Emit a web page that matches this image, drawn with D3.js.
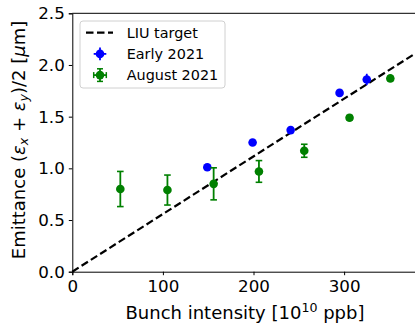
<!DOCTYPE html>
<html>
<head>
<meta charset="utf-8">
<script src="https://cdn.jsdelivr.net/npm/d3@7"></script>
<style>
  html, body { margin: 0; padding: 0; background: #fff; }
  svg { display: block; font-family: "DejaVu Sans", sans-serif; }
</style>
</head>
<body>
<svg id="chart" width="415" height="330"></svg>
<script>
/* emittance vs bunch intensity — LIU target, early and August 2021 */

const xTicks = [0, 100, 200, 300];
const yTicks = [0, 0.5, 1.0, 1.5, 2.0, 2.5];

const liuX = [0, 380];
const liuY = [0, 2.12];

const earlyX = [149, 199, 241, 295, 325];
const earlyY = [1.01, 1.25, 1.37, 1.73, 1.86];
const earlyYerr = [0.02, 0.02, 0.02, 0.02, 0.055];
const earlyXerr = [1, 1, 1, 1, 1];

const augX = [53, 105, 156, 206, 256, 306, 351];
const augY = [0.80, 0.79, 0.85, 0.97, 1.17, 1.49, 1.87];
const augYerr = [0.17, 0.145, 0.155, 0.105, 0.063, 0.02, 0.02];
const augXerr = [1, 1, 1, 1, 1, 1, 1];

const BLUE = '#0000ff', GREEN = '#008000';

const svg = d3.select('#chart');
const x = d3.scaleLinear().domain([0, 380]).range([72.3, 416.6]);
const y = d3.scaleLinear().domain([0, 2.5]).range([271.7, 13.3]);

// LIU target
svg.append('path')
  .attr('d', d3.line().x(d => x(d[0])).y(d => y(d[1]))(d3.zip(liuX, liuY)))
  .attr('fill', 'none').attr('stroke', '#000').attr('stroke-width', 2.2)
  .attr('stroke-dasharray', '7.5,3.5');

function errSeries(xs, ys, xe, ye, color, cap) {
  const g = svg.append('g');
  xs.forEach((xv, i) => {
    const cx = x(xv), cy = y(ys[i]);
    const y0 = y(ys[i] - ye[i]), y1 = y(ys[i] + ye[i]);
    const x0 = x(xv - xe[i]), x1 = x(xv + xe[i]);
    g.append('line').attr('x1', cx).attr('x2', cx).attr('y1', y0).attr('y2', y1)
      .attr('stroke', color).attr('stroke-width', 1.8);
    g.append('line').attr('x1', x0).attr('x2', x1).attr('y1', cy).attr('y2', cy)
      .attr('stroke', color).attr('stroke-width', 1.8);
    if (cap) {
      [y0, y1].forEach(yy => g.append('line').attr('x1', cx - cap).attr('x2', cx + cap)
        .attr('y1', yy).attr('y2', yy).attr('stroke', color).attr('stroke-width', 1.6));
    }
    g.append('circle').attr('cx', cx).attr('cy', cy).attr('r', 4.3).attr('fill', color);
  });
}
errSeries(earlyX, earlyY, earlyXerr, earlyYerr, BLUE, 0);
errSeries(augX, augY, augXerr, augYerr, GREEN, 3.3);

// axes
const xAxis = svg.append('g').attr('transform', `translate(0,${y(0)})`)
  .call(d3.axisBottom(x).tickValues(xTicks).tickSize(3.5).tickPadding(5).tickFormat(d3.format('d')));
const yAxis = svg.append('g').attr('transform', `translate(${x(0)},0)`)
  .call(d3.axisLeft(y).tickValues(yTicks).tickSize(3.5).tickPadding(4).tickFormat(d3.format('.1f')));
[xAxis, yAxis].forEach(a => {
  a.selectAll('text').attr('font-family', '"DejaVu Sans", sans-serif').attr('font-size', 16.7).attr('fill', '#000');
  a.selectAll('line').attr('stroke', '#000');
  a.select('.domain').attr('stroke', '#000');
});
// top spine
svg.append('line').attr('x1', x(0)).attr('x2', 415).attr('y1', y(2.5)).attr('y2', y(2.5))
  .attr('stroke', '#000').attr('stroke-width', 1);

// axis labels
const xl = svg.append('text').attr('x', 245).attr('y', 319).attr('text-anchor', 'middle')
  .attr('font-size', 18).attr('fill', '#000');
xl.append('tspan').text('Bunch intensity [10');
xl.append('tspan').attr('font-size', 12.6).attr('dy', -7).text('10');
xl.append('tspan').attr('dy', 7).text(' ppb]');

const yl = svg.append('text').attr('transform', 'translate(25,140) rotate(-90)')
  .attr('text-anchor', 'middle').attr('font-size', 18).attr('fill', '#000');
yl.append('tspan').text('Emittance (');
yl.append('tspan').attr('font-style', 'italic').text('ε');
yl.append('tspan').attr('font-style', 'italic').attr('font-size', 12.6).attr('dy', 3).text('x');
yl.append('tspan').attr('dy', -3).text(' + ');
yl.append('tspan').attr('font-style', 'italic').text('ε');
yl.append('tspan').attr('font-style', 'italic').attr('font-size', 12.6).attr('dy', 3).text('y');
yl.append('tspan').attr('dy', -3).text(')/2 [');
yl.append('tspan').attr('font-style', 'italic').text('μ');
yl.append('tspan').text('m]');

// legend
const leg = svg.append('g');
leg.append('rect').attr('x', 80).attr('y', 21).attr('width', 145).attr('height', 67).attr('rx', 3)
  .attr('fill', 'rgba(255,255,255,0.8)').attr('stroke', '#d0d0d0').attr('stroke-width', 1);
const legItems = [
  { label: 'LIU target', kind: 'line' },
  { label: 'Early 2021', kind: 'err', color: BLUE, cap: 0 },
  { label: 'August 2021', kind: 'err', color: GREEN, cap: 3 },
];
legItems.forEach((it, i) => {
  const cy = 32.7 + i * 21.2;
  if (it.kind === 'line') {
    leg.append('line').attr('x1', 86).attr('x2', 113).attr('y1', cy).attr('y2', cy)
      .attr('stroke', '#000').attr('stroke-width', 2.2).attr('stroke-dasharray', '7.5,3.5');
  } else {
    const cx = 100;
    leg.append('line').attr('x1', cx - 6.3).attr('x2', cx + 6.3).attr('y1', cy).attr('y2', cy)
      .attr('stroke', it.color).attr('stroke-width', 1.8);
    leg.append('line').attr('x1', cx).attr('x2', cx).attr('y1', cy - 6.3).attr('y2', cy + 6.3)
      .attr('stroke', it.color).attr('stroke-width', 1.8);
    if (it.cap) {
      [-6.3, 6.3].forEach(o => {
        leg.append('line').attr('x1', cx - it.cap).attr('x2', cx + it.cap).attr('y1', cy + o).attr('y2', cy + o)
          .attr('stroke', it.color).attr('stroke-width', 1.5);
        leg.append('line').attr('x1', cx + o).attr('x2', cx + o).attr('y1', cy - it.cap).attr('y2', cy + it.cap)
          .attr('stroke', it.color).attr('stroke-width', 1.5);
      });
    }
    leg.append('circle').attr('cx', cx).attr('cy', cy).attr('r', 4.3).attr('fill', it.color);
  }
  leg.append('text').attr('x', 126.7).attr('y', cy + 5.2).attr('font-size', 14.4).attr('fill', '#000')
    .text(it.label);
});
</script>
</body>
</html>
